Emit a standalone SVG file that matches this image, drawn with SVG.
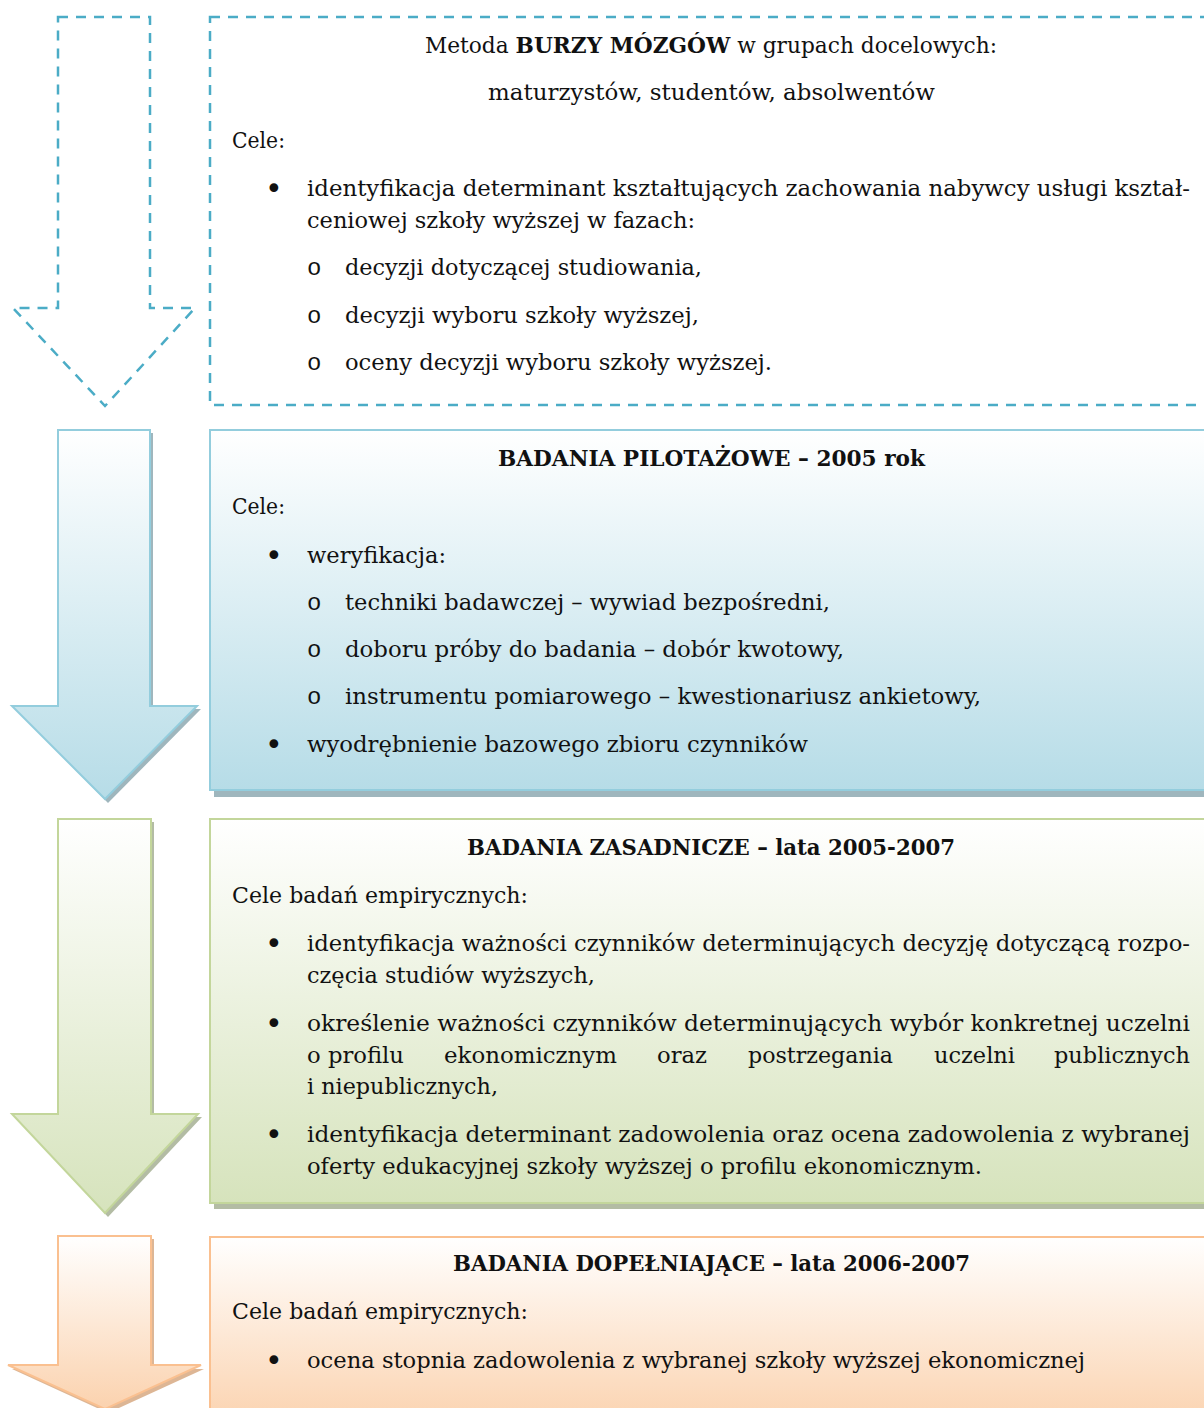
<svg xmlns="http://www.w3.org/2000/svg" width="1204" height="1408" viewBox="0 0 1204 1408">
  <defs>
    <linearGradient id="gBlue" x1="0" y1="0" x2="0" y2="1">
      <stop offset="0" stop-color="#ffffff"/>
      <stop offset="1" stop-color="#b6dce7"/>
    </linearGradient>
    <linearGradient id="gGreen" x1="0" y1="0" x2="0" y2="1">
      <stop offset="0" stop-color="#ffffff"/>
      <stop offset="1" stop-color="#d6e3bc"/>
    </linearGradient>
    <linearGradient id="gOrange" x1="0" y1="0" x2="0" y2="1">
      <stop offset="0" stop-color="#ffffff"/>
      <stop offset="1" stop-color="#fbd2ae"/>
    </linearGradient>
    <style>
      text { font-family: "DejaVu Serif", "Liberation Serif", serif; font-size: 23px; fill: #111; }
      .b { font-weight: bold; }
      .dot { font-family: "DejaVu Sans", sans-serif; font-size: 30px; }
      .circ { font-family: "Liberation Mono", monospace; font-size: 24px; }
      .dash { fill: none; stroke: #4bacc6; stroke-width: 2.5; stroke-dasharray: 10 8; }
      .blue { fill: url(#gBlue); stroke: #93cddd; stroke-width: 2; }
      .green { fill: url(#gGreen); stroke: #c3d69b; stroke-width: 2; }
      .orange { fill: url(#gOrange); stroke: #fac090; stroke-width: 2; }
      .shBlue { fill: #7f9ea7; opacity: 0.75; }
      .shGreen { fill: #9aa586; opacity: 0.75; }
      .shOrange { fill: #d29d72; opacity: 0.75; }
    </style>
  </defs>

  <!-- stage 1: brainstorming (dashed outline) -->
  <g id="arrow-brainstorm">
    <polygon class="dash" points="58,17 150,17 150,308 195,308 105,406 13,308 58,308"/>
  </g>
  <g id="box-brainstorm">
    <rect class="dash" x="210" y="17" width="1010" height="388"/>
    <text x="425" y="53" textLength="572" lengthAdjust="spacingAndGlyphs">Metoda <tspan class="b">BURZY MÓZGÓW</tspan> w grupach docelowych:</text>
    <text x="488" y="100" textLength="447" lengthAdjust="spacingAndGlyphs">maturzystów, studentów, absolwentów</text>
    <text x="232" y="148" textLength="53" lengthAdjust="spacingAndGlyphs">Cele:</text>
    <text class="dot" x="265" y="199">•</text>
    <text x="307" y="196" textLength="883" lengthAdjust="spacingAndGlyphs">identyfikacja determinant kształtujących zachowania nabywcy usługi kształ-</text>
    <text x="307" y="228" textLength="388" lengthAdjust="spacingAndGlyphs">ceniowej szkoły wyższej w fazach:</text>
    <text class="circ" x="307" y="275">o</text>
    <text x="345" y="275" textLength="357" lengthAdjust="spacingAndGlyphs">decyzji dotyczącej studiowania,</text>
    <text class="circ" x="307" y="323">o</text>
    <text x="345" y="323" textLength="354" lengthAdjust="spacingAndGlyphs">decyzji wyboru szkoły wyższej,</text>
    <text class="circ" x="307" y="370">o</text>
    <text x="345" y="370" textLength="427" lengthAdjust="spacingAndGlyphs">oceny decyzji wyboru szkoły wyższej.</text>
  </g>

  <!-- stage 2: pilot study -->
  <g id="arrow-pilot">
    <polygon class="shBlue" points="61,433 153,433 153,709 201,709 108,803 15,709 61,709"/>
    <polygon class="blue" points="58,430 150,430 150,706 197,706 105,799 12,706 58,706"/>
  </g>
  <g id="box-pilot">
    <rect class="shBlue" x="214" y="435" width="1000" height="362"/>
    <rect class="blue" x="210" y="430" width="1010" height="360"/>
    <text class="b" x="498" y="466" textLength="427" lengthAdjust="spacingAndGlyphs">BADANIA PILOTAŻOWE – 2005 rok</text>
    <text x="232" y="514" textLength="53" lengthAdjust="spacingAndGlyphs">Cele:</text>
    <text class="dot" x="265" y="566">•</text>
    <text x="307" y="563" textLength="139" lengthAdjust="spacingAndGlyphs">weryfikacja:</text>
    <text class="circ" x="307" y="610">o</text>
    <text x="345" y="610" textLength="485" lengthAdjust="spacingAndGlyphs">techniki badawczej – wywiad bezpośredni,</text>
    <text class="circ" x="307" y="657">o</text>
    <text x="345" y="657" textLength="499" lengthAdjust="spacingAndGlyphs">doboru próby do badania – dobór kwotowy,</text>
    <text class="circ" x="307" y="704">o</text>
    <text x="345" y="704" textLength="636" lengthAdjust="spacingAndGlyphs">instrumentu pomiarowego – kwestionariusz ankietowy,</text>
    <text class="dot" x="265" y="755">•</text>
    <text x="307" y="752" textLength="501" lengthAdjust="spacingAndGlyphs">wyodrębnienie bazowego zbioru czynników</text>
  </g>

  <!-- stage 3: main study -->
  <g id="arrow-main">
    <polygon class="shGreen" points="61,822 154,822 154,1117 202,1117 108,1217 15,1117 61,1117"/>
    <polygon class="green" points="58,819 151,819 151,1114 198,1114 105,1213 12,1114 58,1114"/>
  </g>
  <g id="box-main">
    <rect class="shGreen" x="214" y="824" width="1000" height="385"/>
    <rect class="green" x="210" y="819" width="1010" height="384"/>
    <text class="b" x="467" y="855" textLength="488" lengthAdjust="spacingAndGlyphs">BADANIA ZASADNICZE – lata 2005-2007</text>
    <text x="232" y="903" textLength="296" lengthAdjust="spacingAndGlyphs">Cele badań empirycznych:</text>
    <text class="dot" x="265" y="954">•</text>
    <text x="307" y="951" textLength="883" lengthAdjust="spacingAndGlyphs">identyfikacja ważności czynników determinujących decyzję dotyczącą rozpo-</text>
    <text x="307" y="983" textLength="288" lengthAdjust="spacingAndGlyphs">częcia studiów wyższych,</text>
    <text class="dot" x="265" y="1034">•</text>
    <text x="307" y="1031" textLength="883" lengthAdjust="spacingAndGlyphs">określenie ważności czynników determinujących wybór konkretnej uczelni</text>
    <text x="307" y="1063" textLength="97" lengthAdjust="spacingAndGlyphs">o profilu</text>
    <text x="444" y="1063" textLength="173" lengthAdjust="spacingAndGlyphs">ekonomicznym</text>
    <text x="657" y="1063" textLength="50" lengthAdjust="spacingAndGlyphs">oraz</text>
    <text x="748" y="1063" textLength="145" lengthAdjust="spacingAndGlyphs">postrzegania</text>
    <text x="934" y="1063" textLength="81" lengthAdjust="spacingAndGlyphs">uczelni</text>
    <text x="1054" y="1063" textLength="136" lengthAdjust="spacingAndGlyphs">publicznych</text>
    <text x="307" y="1094" textLength="191" lengthAdjust="spacingAndGlyphs">i niepublicznych,</text>
    <text class="dot" x="265" y="1145">•</text>
    <text x="307" y="1142" textLength="883" lengthAdjust="spacingAndGlyphs">identyfikacja determinant zadowolenia oraz ocena zadowolenia z wybranej</text>
    <text x="307" y="1174" textLength="675" lengthAdjust="spacingAndGlyphs">oferty edukacyjnej szkoły wyższej o profilu ekonomicznym.</text>
  </g>

  <!-- stage 4: supplementary study -->
  <g id="arrow-supplementary">
    <polygon class="shOrange" points="61,1239 154,1239 154,1369 204,1369 108,1413 12,1369 61,1369"/>
    <polygon class="orange" points="58,1236 151,1236 151,1365 201,1365 105,1409 8,1365 58,1365"/>
  </g>
  <g id="box-supplementary">
    <rect class="orange" x="210" y="1237" width="1010" height="190"/>
    <text class="b" x="453" y="1271" textLength="517" lengthAdjust="spacingAndGlyphs">BADANIA DOPEŁNIAJĄCE – lata 2006-2007</text>
    <text x="232" y="1319" textLength="296" lengthAdjust="spacingAndGlyphs">Cele badań empirycznych:</text>
    <text class="dot" x="265" y="1371">•</text>
    <text x="307" y="1368" textLength="778" lengthAdjust="spacingAndGlyphs">ocena stopnia zadowolenia z wybranej szkoły wyższej ekonomicznej</text>
  </g>
</svg>
